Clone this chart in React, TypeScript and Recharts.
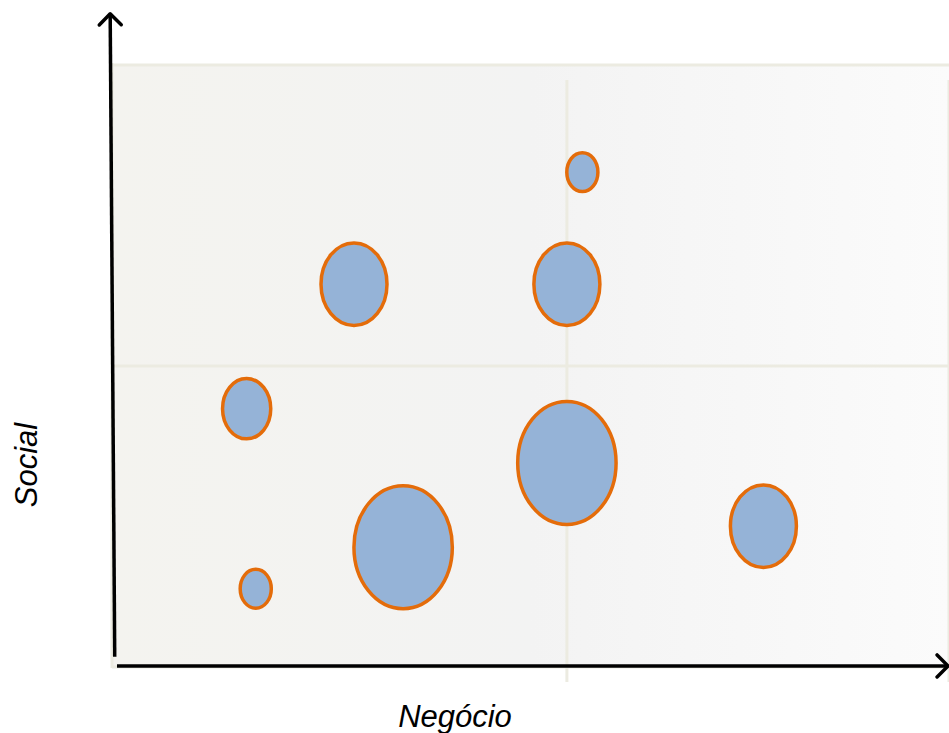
import React from "react";
import {
  ScatterChart,
  Scatter,
  XAxis,
  YAxis,
  ZAxis,
  CartesianGrid,
  ReferenceLine
} from "recharts";

// posição no eixo "Negócio"
const negocio = [5.17, 2.66, 5.0, 1.48, 5.0, 7.16, 3.2, 1.58];
// posição no eixo "Social"
const social = [8.22, 6.36, 6.36, 4.29, 3.39, 2.34, 1.99, 1.3];
// tamanho da bolha
const tamanho = [10, 45, 45, 24, 100, 45, 100, 10];

const xTicks = [0, 5];
const yTicks = [0, 5, 10];

const data = negocio.map((x, i) => ({
  x,
  y: social[i],
  z: tamanho[i]
}));

const Bubble = (props: any) => {
  const { cx, cy, size } = props;
  const ry = Math.sqrt((size || 0) / Math.PI);
  return (
    <ellipse
      cx={cx}
      cy={cy}
      rx={ry * 0.8}
      ry={ry}
      fill="#95b3d7"
      stroke="#e46c0a"
      strokeWidth={3.5}
    />
  );
};

const GridV = (props: any) => {
  const { x1, y1, x2, y2, x } = props;
  const edge = Math.abs(x1 - x) < 2;
  return (
    <line
      x1={x1}
      x2={x2}
      y1={edge ? y1 - 2 : y1 + 15}
      y2={edge ? y2 + 1 : y2 + 15}
      stroke="#ecebe1"
      strokeWidth={3}
    />
  );
};

export default function App() {
  return (
    <div style={{ position: "absolute", left: 0, top: 0, width: 949, height: 733 }}>
      <ScatterChart
        width={949}
        height={733}
        margin={{ top: 65, right: 0, bottom: 66, left: 112 }}
      >
        <defs>
          <linearGradient id="bg" x1="0" y1="0" x2="1" y2="0">
            <stop offset="0%" stopColor="#f4f3ef" />
            <stop offset="50%" stopColor="#f3f3f3" />
            <stop offset="100%" stopColor="#fbfbfb" />
          </linearGradient>
          <marker
            id="arrow"
            viewBox="-22 -14 26 28"
            refX={0}
            refY={0}
            markerWidth={26}
            markerHeight={28}
            markerUnits="userSpaceOnUse"
            orient="auto"
          >
            <path
              d="M -11 -11 L 0 0 L -11 11"
              fill="none"
              stroke="#000"
              strokeWidth={3.5}
              strokeLinecap="round"
              strokeLinejoin="round"
            />
          </marker>
        </defs>
        <CartesianGrid
          fill="url(#bg)"
          stroke="#ecebe1"
          strokeWidth={3}
          vertical={GridV}
        />
        <XAxis
          hide
          type="number"
          dataKey="x"
          domain={[0, 9.2]}
          ticks={xTicks}
        />
        <YAxis
          hide
          type="number"
          dataKey="y"
          domain={[0, 10]}
          ticks={yTicks}
        />
        <ZAxis type="number" dataKey="z" domain={[0, 100]} range={[0, 11880]} />
        <Scatter
          data={data}
          shape={Bubble}
          isAnimationActive={false}
        />
        <ReferenceLine
          segment={[{ x: 0.03, y: 0.17 }, { x: -0.02, y: 10.85 }]}
          stroke="#000"
          strokeWidth={3.5}
          ifOverflow="visible"
          markerEnd="url(#arrow)"
        />
        <ReferenceLine
          segment={[{ x: 0.055, y: 0.017 }, { x: 9.19, y: 0.017 }]}
          stroke="#000"
          strokeWidth={3.5}
          ifOverflow="visible"
          markerEnd="url(#arrow)"
        />
      </ScatterChart>
      <div
        style={{
          position: "absolute",
          left: 27,
          top: 465,
          transform: "translate(-50%, -50%) rotate(-90deg)",
          fontFamily: "'Liberation Sans', Arial, sans-serif",
          fontStyle: "italic",
          fontSize: 31,
          whiteSpace: "nowrap"
        }}
      >
        Social
      </div>
      <div
        style={{
          position: "absolute",
          left: 455,
          top: 717,
          transform: "translate(-50%, -50%)",
          fontFamily: "'Liberation Sans', Arial, sans-serif",
          fontStyle: "italic",
          fontSize: 31,
          whiteSpace: "nowrap"
        }}
      >
        Negócio
      </div>
    </div>
  );
}
